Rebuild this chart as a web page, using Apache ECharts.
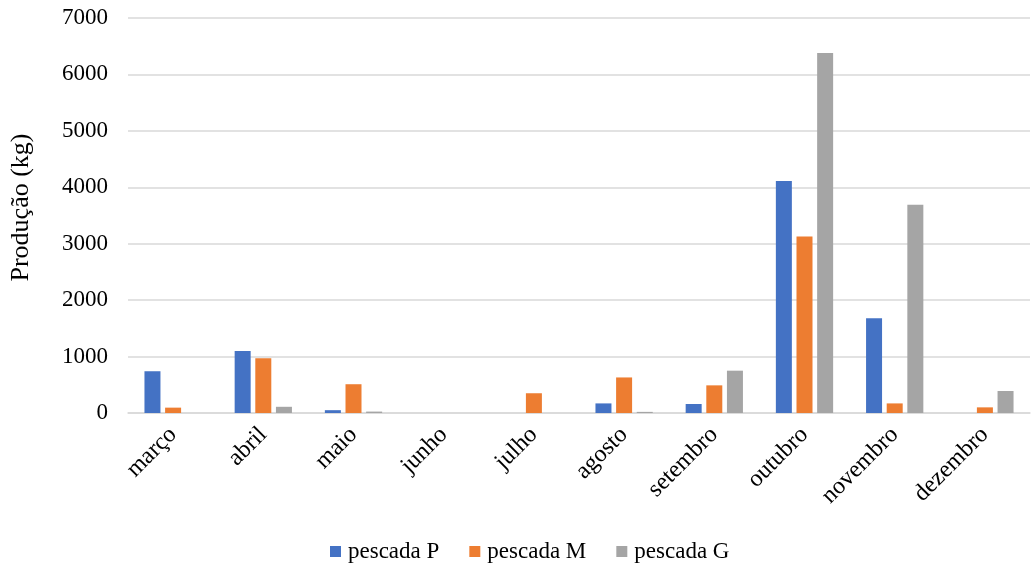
<!DOCTYPE html>
<html>
<head>
<meta charset="utf-8">
<script src="https://cdn.jsdelivr.net/npm/echarts@6/dist/echarts.min.js"></script>
<style>
  html, body { margin: 0; padding: 0; background: #fff; }
  #chart { width: 1031px; height: 570px; }
</style>
</head>
<body>
<div id="chart"></div>
<script>
// Monthly production (kg) by hake size class
const months = ['março', 'abril', 'maio', 'junho', 'julho', 'agosto', 'setembro', 'outubro', 'novembro', 'dezembro'];
const pescadaP = [740, 1100, 50, 0, 0, 170, 160, 4110, 1680, 0];
const pescadaM = [95, 970, 510, 0, 350, 630, 490, 3130, 170, 100];
const pescadaG = [0, 110, 25, 0, 0, 20, 750, 6380, 3690, 390];
const yTicks = { min: 0, max: 7000, interval: 1000 };

const font = '"Liberation Serif", "Times New Roman", serif';
const chart = echarts.init(document.getElementById('chart'), null, { renderer: 'canvas' });

function barSeries(name, data, color) {
  return {
    name: name,
    type: 'bar',
    data: data,
    barWidth: 16,
    barGap: '29%',
    itemStyle: { color: color },
    emphasis: { disabled: true }
  };
}

chart.setOption({
  animation: false,
  textStyle: { fontFamily: font },
  grid: { left: 128, right: 1, top: 18, bottom: 157, outerBoundsMode: 'none', containLabel: false },
  xAxis: {
    type: 'category',
    data: months,
    axisLine: { lineStyle: { color: '#d9d9d9', width: 1.5 } },
    axisTick: { show: false },
    axisLabel: {
      rotate: 45,
      margin: 18,
      color: '#000',
      fontSize: 24,
      fontFamily: font
    }
  },
  yAxis: {
    type: 'value',
    min: yTicks.min,
    max: yTicks.max,
    interval: yTicks.interval,
    name: 'Produção (kg)',
    nameLocation: 'middle',
    nameGap: 94,
    nameTextStyle: { color: '#000', fontSize: 26, fontFamily: font, padding: [0, 0, 0, 16] },
    axisLine: { show: false },
    axisTick: { show: false },
    axisLabel: {
      color: '#000',
      fontSize: 23,
      margin: 20,
      fontFamily: font,
      formatter: function (v) { return String(v); }
    },
    splitLine: { lineStyle: { color: '#d9d9d9', width: 1.5 } }
  },
  legend: {
    bottom: 2,
    left: 325,
    itemWidth: 11,
    itemHeight: 11,
    itemGap: 30,
    icon: 'rect',
    textStyle: { color: '#000', fontSize: 23, fontFamily: font, padding: [0, 0, 0, 2] },
    data: ['pescada P', 'pescada M', 'pescada G']
  },
  series: [
    barSeries('pescada P', pescadaP, '#4472c4'),
    barSeries('pescada M', pescadaM, '#ed7d31'),
    barSeries('pescada G', pescadaG, '#a5a5a5')
  ]
});
</script>
</body>
</html>
